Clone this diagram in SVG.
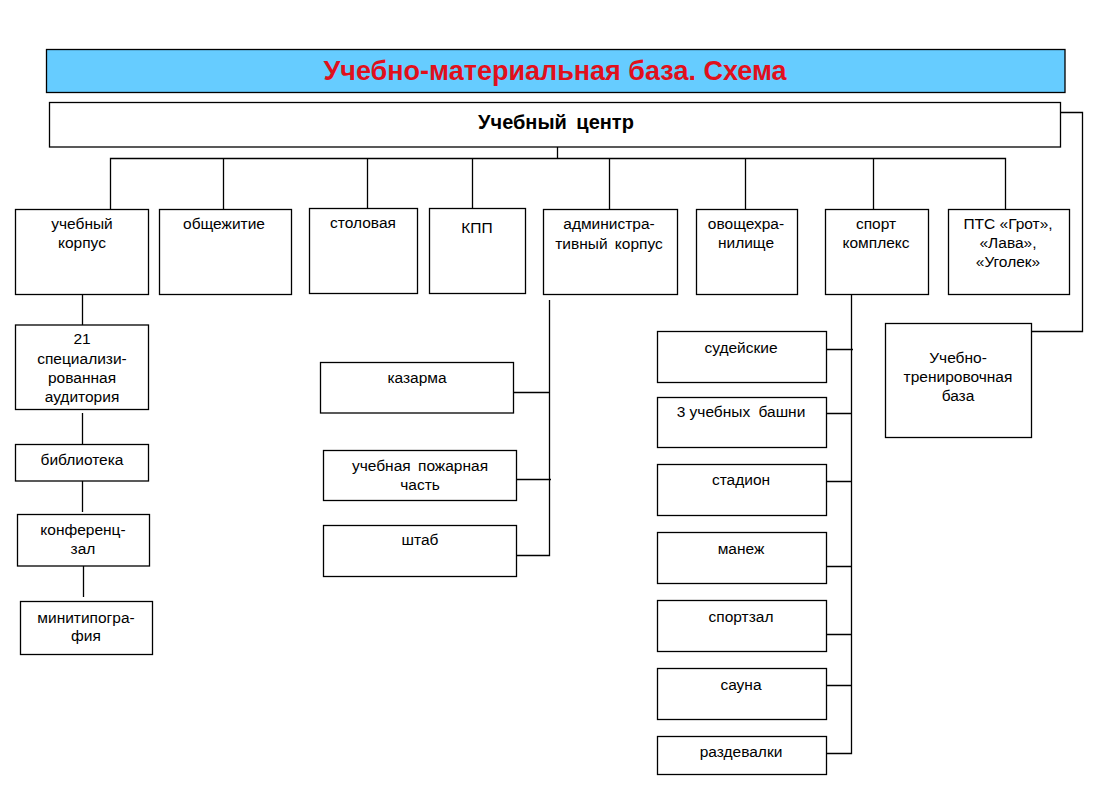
<svg xmlns="http://www.w3.org/2000/svg" width="1096" height="794" viewBox="0 0 1096 794">
<style>
.b{fill:#fff;stroke:#000;stroke-width:1.3}
.t{font-family:"Liberation Sans",Arial,sans-serif;font-size:15.5px;fill:#000;text-anchor:middle}
.c{fill:none;stroke:#000;stroke-width:1.3}
</style>
<rect width="1096" height="794" fill="#fff"/>
<g id="title">
<rect x="46.5" y="49.5" width="1018.5" height="43" fill="#66CCFF" stroke="#000" stroke-width="1.3"/>
<text x="555" y="80" style="font-family:'Liberation Sans',Arial,sans-serif;font-size:27px;font-weight:bold;fill:#E0101C;text-anchor:middle">Учебно-материальная база. Схема</text>
</g>
<g id="connectors" class="c">
<path d="M557.5 147V158.5M110.5 209V158.5H1005.5V209M223.5 158.5V209M367.5 158.5V208M472.5 158.5V208M609.5 158.5V209M745.5 158.5V209M873.5 158.5V209"/>
<path d="M1060 112.5H1082.5V331.5H1031"/>
<path d="M82.5 294V325M82.5 413V444M82.5 481V512M83.5 566V597"/>
<path d="M549.5 300V555.5H517M513 392.5H549.5M517 479.5H551"/>
<path d="M851.5 294V753.5H826M826 349.5H853M826 413.5H851.5M826 481.5H851.5M826 566.5H851.5M826 634.5H851.5M826 685.5H851.5"/>
</g>
<g id="center"><rect class="b" x="49.5" y="102.5" width="1011" height="44.5"/><text x="556" y="129" style="font-family:'Liberation Sans',Arial,sans-serif;font-size:20px;font-weight:bold;word-spacing:4px;text-anchor:middle">Учебный центр</text></g>
<g id="uchebny-korpus"><rect class="b" x="15.5" y="209.5" width="133" height="85"/><text class="t" x="82" y="229">учебный</text><text class="t" x="82" y="248">корпус</text></g>
<g id="obshchezhitie"><rect class="b" x="159.5" y="209.5" width="132" height="85"/><text class="t" x="224" y="229">общежитие</text></g>
<g id="stolovaya"><rect class="b" x="309.5" y="208.5" width="108" height="85"/><text class="t" x="363" y="228">столовая</text></g>
<g id="kpp"><rect class="b" x="429.5" y="208.5" width="96" height="85"/><text class="t" x="477" y="233">КПП</text></g>
<g id="admin"><rect class="b" x="543.5" y="209.5" width="134" height="85"/><text class="t" x="609" y="229">администра-</text><text class="t" x="609" y="249" style="word-spacing:3px">тивный корпус</text></g>
<g id="ovoshch"><rect class="b" x="696.5" y="209.5" width="101" height="85"/><text class="t" x="746" y="229">овощехра-</text><text class="t" x="746" y="248">нилище</text></g>
<g id="sport"><rect class="b" x="825.5" y="209.5" width="103" height="85"/><text class="t" x="876" y="229">спорт</text><text class="t" x="876" y="248">комплекс</text></g>
<g id="pts"><rect class="b" x="948.5" y="209.5" width="121" height="85"/><text class="t" x="1008" y="229">ПТС «Грот»,</text><text class="t" x="1008" y="248">«Лава»,</text><text class="t" x="1008" y="267">«Уголек»</text></g>
<g id="auditoriya"><rect class="b" x="15.5" y="325" width="133" height="84.5"/><text class="t" x="82" y="344">21</text><text class="t" x="82" y="364">специализи-</text><text class="t" x="82" y="383">рованная</text><text class="t" x="82" y="402">аудитория</text></g>
<g id="biblioteka"><rect class="b" x="15.5" y="444.5" width="133" height="36.5"/><text class="t" x="82" y="465">библиотека</text></g>
<g id="konferents"><rect class="b" x="17.5" y="514.5" width="132" height="51.5"/><text class="t" x="83" y="535">конференц-</text><text class="t" x="83" y="554">зал</text></g>
<g id="minitipografiya"><rect class="b" x="20.5" y="601.5" width="132" height="53"/><text class="t" x="86" y="623">минитипогра-</text><text class="t" x="86" y="641">фия</text></g>
<g id="kazarma"><rect class="b" x="320.5" y="362.5" width="193" height="50.5"/><text class="t" x="417" y="383">казарма</text></g>
<g id="pozharnaya"><rect class="b" x="323.5" y="450.5" width="193" height="50"/><text class="t" x="420" y="471" style="word-spacing:3px">учебная пожарная</text><text class="t" x="420" y="490">часть</text></g>
<g id="shtab"><rect class="b" x="323.5" y="525.5" width="193" height="51"/><text class="t" x="420" y="545">штаб</text></g>
<g id="sudeyskie"><rect class="b" x="657.5" y="331.5" width="169" height="51"/><text class="t" x="741" y="353">судейские</text></g>
<g id="bashni"><rect class="b" x="657.5" y="397.5" width="169" height="50"/><text class="t" x="741" y="417">3 учебных <tspan dx="4">башни</tspan></text></g>
<g id="stadion"><rect class="b" x="657.5" y="464.5" width="169" height="51"/><text class="t" x="741" y="485">стадион</text></g>
<g id="manezh"><rect class="b" x="657.5" y="532.5" width="169" height="51"/><text class="t" x="741" y="554">манеж</text></g>
<g id="sportzal"><rect class="b" x="657.5" y="600.5" width="169" height="51"/><text class="t" x="741" y="622">спортзал</text></g>
<g id="sauna"><rect class="b" x="657.5" y="668.5" width="169" height="51"/><text class="t" x="741" y="690">сауна</text></g>
<g id="razdevalki"><rect class="b" x="657.5" y="736.5" width="169" height="38"/><text class="t" x="741" y="757">раздевалки</text></g>
<g id="utb"><rect class="b" x="885.5" y="323.5" width="146" height="114"/><text class="t" x="958" y="363">Учебно-</text><text class="t" x="958" y="382">тренировочная</text><text class="t" x="958" y="401">база</text></g>
</svg>
